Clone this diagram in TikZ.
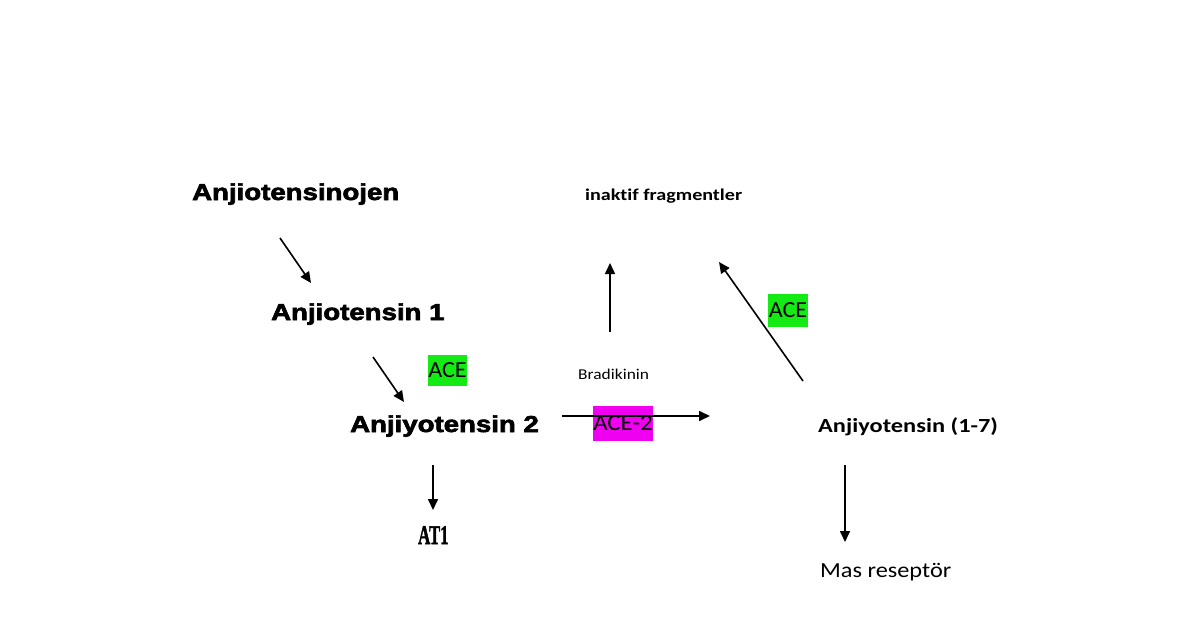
\documentclass[tikz,border=0pt]{standalone}
\usepackage{fontspec}
\setmainfont{Liberation Sans}
\newfontfamily\heavy{Liberation Sans}[BoldFeatures={FakeBold=2.6}]
\newfontfamily\calibri{Carlito}[Ligatures=NoCommon]
\newfontfamily\timesf{Liberation Serif}[BoldFeatures={FakeBold=2}]
\usetikzlibrary{arrows.meta}
\definecolor{limeg}{RGB}{20,235,20}
\definecolor{magen}{RGB}{240,0,240}
\tikzset{
  big/.style={font=\heavy\bfseries\fontsize{23}{26}\selectfont, inner sep=0pt, anchor=base west},
  lab/.style={inner sep=0pt, anchor=base west},
  enz/.style={fill=#1, inner sep=0pt, font=\calibri\fontsize{23}{23}\selectfont},
  arr/.style={line width=1.6pt, -{Triangle[length=11pt,width=10pt]}},
}
\newcommand{\xs}[2]{\scalebox{#1}[1]{#2}}
\begin{document}
\begin{tikzpicture}[x=1pt,y=-1pt]
\useasboundingbox (0,0) rectangle (1200,630);
% nodes
\node[big] (agt) at (192,200) {\xs{1.2}{Anjiotensinojen}};
\node[big] (a1) at (271,320) {\xs{1.2}{Anjiotensin 1}};
\node[big] (a2) at (350,432) {\xs{1.2}{Anjiyotensin 2}};
\node[lab, font=\timesf\bfseries\fontsize{27}{27}\selectfont] (at1) at (418,544) {\xs{0.62}{AT1}};
\node[lab, font=\calibri\bfseries\fontsize{16.5}{16.5}\selectfont] (inak) at (585,200) {\xs{1.22}{inaktif fragmentler}};
\node[lab, font=\calibri\fontsize{15}{15}\selectfont] (brad) at (578,379) {\xs{1.16}{Bradikinin}};
\node[lab, font=\calibri\bfseries\fontsize{20}{20}\selectfont] (a17) at (818,432) {\xs{1.22}{Anjiyotensin (1-7)}};
\node[lab, font=\calibri\fontsize{21.5}{21.5}\selectfont] (mas) at (820,577) {\xs{1.13}{Mas reseptör}};
% enzyme boxes
\node[enz=limeg, minimum width=39pt, minimum height=31pt] (ace1) at (447.5,370) {\xs{1.05}{ACE}};
\node[enz=limeg, minimum width=40pt, minimum height=33pt] (ace2) at (788,310.5) {\xs{1.05}{ACE}};
\node[enz=magen, minimum width=58pt, minimum height=35pt] (acetwo) at (623,423.5) {\xs{1.08}{ACE-2}};
% arrow endpoints
\coordinate (p1s) at (280,238); \coordinate (p1e) at (311,283);
\coordinate (p2s) at (373,357); \coordinate (p2e) at (404,402);
\coordinate (p3s) at (433,465); \coordinate (p3e) at (433,510);
\coordinate (p4s) at (562,416); \coordinate (p4e) at (710,416);
\coordinate (p5s) at (610,332); \coordinate (p5e) at (610,263);
\coordinate (p6s) at (803,381); \coordinate (p6e) at (719,262);
\coordinate (p7s) at (845,465); \coordinate (p7e) at (845,542);
% arrows
\draw[arr] (p1s) -- (p1e);
\draw[arr] (p2s) -- (p2e);
\draw[arr] (p3s) -- (p3e);
\draw[arr] (p4s) -- (p4e);
\draw[arr] (p5s) -- (p5e);
\draw[arr] (p6s) -- (p6e);
\draw[arr] (p7s) -- (p7e);
\end{tikzpicture}
\end{document}
